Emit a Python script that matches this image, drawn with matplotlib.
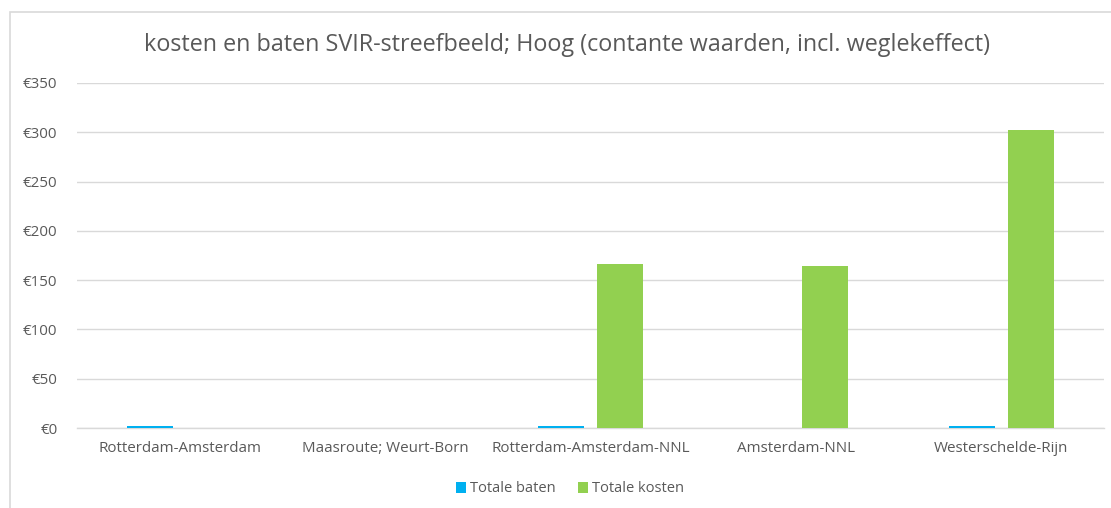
import matplotlib
matplotlib.use("Agg")
import matplotlib.pyplot as plt
from matplotlib.patches import Rectangle
import numpy as np

categories = ["Rotterdam-Amsterdam", "Maasroute; Weurt-Born", "Rotterdam-Amsterdam-NNL",
              "Amsterdam-NNL", "Westerschelde-Rijn"]
baten = [2.0, 0.0, 2.0, 0.0, 2.0]
kosten = [0.0, 0.0, 166, 164, 302]
yticks = [0, 50, 100, 150, 200, 250, 300, 350]
title = "kosten en baten SVIR-streefbeeld; Hoog (contante waarden, incl. weglekeffect)"

plt.rcParams['font.family'] = ['Open Sans', 'DejaVu Sans']
W, H = 1111, 508
fig = plt.figure(figsize=(W/100, H/100), dpi=100)
fig.patch.set_facecolor('white')
fig.patches.append(Rectangle((10/W, -0.1), 1.2, 1 - 12/H + 0.1, transform=fig.transFigure,
                             fill=False, edgecolor='#D9D9D9', linewidth=1.2))

ax = fig.add_axes([77/W, 1 - 428/H, (1104-77)/W, (428-83)/H])
x = np.arange(len(categories))
bw = 0.224
off = 0.144
ax.bar(x - off, baten, bw, color='#00B0F0', label='Totale baten', zorder=3)
ax.bar(x + off, kosten, bw, color='#92D050', label='Totale kosten', zorder=3)
ax.set_xlim(-0.5, len(categories) - 0.5)
ax.set_ylim(0, 350)
ax.set_yticks(yticks)
ax.set_yticklabels([f"€{v}" for v in yticks])
ax.set_xticks(x)
ax.set_xticklabels(categories)
ax.grid(axis='y', color='#D9D9D9', linewidth=1, zorder=0)
ax.set_axisbelow(True)
for s in ['top', 'right', 'left']:
    ax.spines[s].set_visible(False)
ax.spines['bottom'].set_color('#D9D9D9')
ax.spines['bottom'].set_linewidth(1)
ax.spines['bottom'].set_zorder(1)
ax.tick_params(axis='both', length=0, colors='#595959', labelsize=10.9)
ax.tick_params(axis='y', pad=14)
ax.tick_params(axis='x', pad=9)

fig.text(567/W, 1 - 45/H, title, ha='center', va='center', fontsize=16.8, color='#595959')
leg = fig.legend(loc='center', bbox_to_anchor=(570/W, 1 - 489/H), ncol=2, frameon=False,
                 fontsize=10.5, handlelength=0.7, handleheight=0.7, columnspacing=1.5,
                 handletextpad=0.3)
for t in leg.get_texts():
    t.set_color('#595959')
fig.savefig('out.png', dpi=100)
